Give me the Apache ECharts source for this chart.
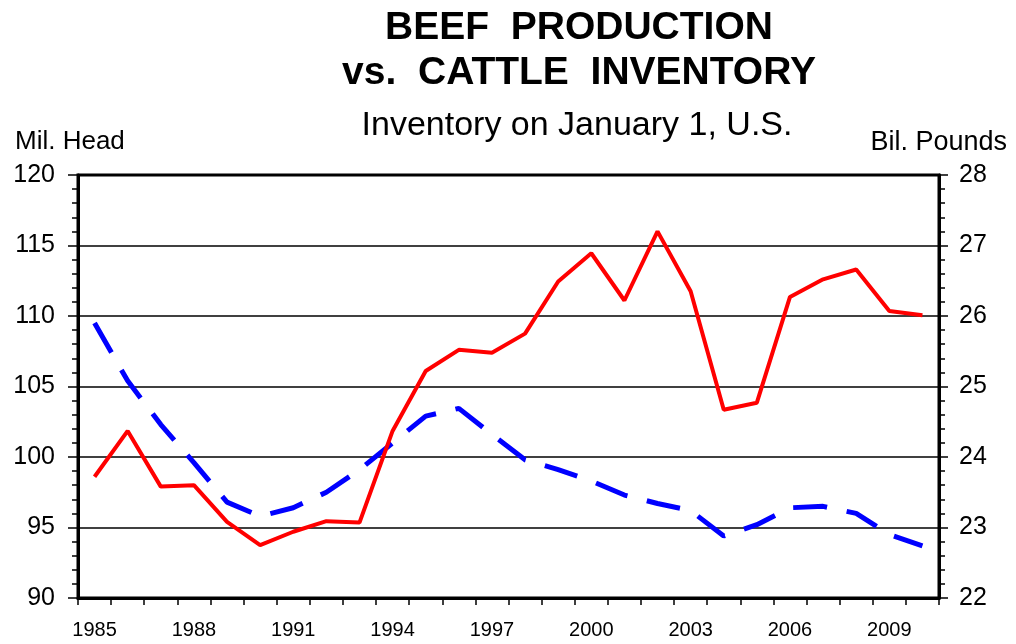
<!DOCTYPE html>
<html>
<head>
<meta charset="utf-8">
<title>Beef Production vs. Cattle Inventory</title>
<script src="https://cdn.jsdelivr.net/npm/echarts@6/dist/echarts.min.js"></script>
<style>
  html, body { margin: 0; padding: 0; background: #fff; }
  #chart { width: 1016px; height: 644px; }
</style>
</head>
<body>
<div id="chart"></div>
<script>
// years on the x axis (one point per January 1)
const years = ['1985','1986','1987','1988','1989','1990','1991','1992','1993','1994',
  '1995','1996','1997','1998','1999','2000','2001','2002','2003','2004',
  '2005','2006','2007','2008','2009','2010']

// cattle inventory, mil. head (left axis, blue dashed)
const cattleInventory = [109.5, 105.4, 102.3, 99.6, 96.8, 95.8, 96.4, 97.5, 99.1, 101.0,
  102.9, 103.45, 101.6, 99.8, 99.1, 98.3, 97.3, 96.7, 96.2, 94.4,
  95.2, 96.4, 96.5, 96.0, 94.5, 93.7]

// beef production, bil. pounds (right axis, red)
const beefProduction = [23.72, 24.37, 23.58, 23.60, 23.08, 22.75, 22.94, 23.09, 23.07, 24.37,
  25.22, 25.52, 25.48, 25.75, 26.49, 26.89, 26.22, 27.20, 26.35, 24.67,
  24.77, 26.27, 26.52, 26.66, 26.07, 26.01]

// axis ranges
const leftAxisRange = [90, 120, 5]
const rightAxisRange = [22, 28, 1]

const font = '"Liberation Sans", Arial, sans-serif'

let myChart = echarts.init(document.getElementById('chart'))

const option = {
  backgroundColor: '#fff',
  animation: false,
  title: [
    {
      text: 'BEEF  PRODUCTION\nvs.  CATTLE  INVENTORY',
      left: 574,
      top: 1,
      textAlign: 'center',
      textStyle: { fontFamily: font, fontWeight: 'bold', fontSize: 39, lineHeight: 45, color: '#000' }
    },
    {
      text: 'Inventory on January 1, U.S.',
      left: 572,
      top: 104,
      textAlign: 'center',
      textStyle: { fontFamily: font, fontWeight: 'normal', fontSize: 34, color: '#000' }
    },
    {
      text: 'Mil. Head',
      left: 10,
      top: 124,
      textStyle: { fontFamily: font, fontWeight: 'normal', fontSize: 26, color: '#000' }
    },
    {
      text: 'Bil. Pounds',
      right: 4,
      top: 124,
      textStyle: { fontFamily: font, fontWeight: 'normal', fontSize: 27, color: '#000' }
    }
  ],
  grid: {
    left: 78,
    right: 77,
    top: 175,
    bottom: 46,
    show: true,
    borderColor: '#000',
    borderWidth: 3,
    containLabel: false
  },
  xAxis: {
    type: 'category',
    data: years,
    boundaryGap: true,
    axisLine: { lineStyle: { color: '#000', width: 3 } },
    axisTick: { show: true, interval: 0, length: 7, lineStyle: { color: '#000', width: 1.5 } },
    axisLabel: { interval: 2, margin: 22, color: '#000', fontFamily: '"Liberation Sans Narrow", ' + font, fontSize: 20 },
    splitLine: { show: false }
  },
  yAxis: [
    {
      type: 'value',
      position: 'left',
      min: leftAxisRange[0],
      max: leftAxisRange[1],
      interval: leftAxisRange[2],
      axisLine: { show: true, lineStyle: { color: '#000', width: 3 } },
      axisTick: { show: true, length: 10, lineStyle: { color: '#000', width: 1.5 } },
      minorTick: { show: true, splitNumber: 5, length: 6, lineStyle: { color: '#000', width: 1.5 } },
      axisLabel: { margin: 23, color: '#000', fontFamily: font, fontSize: 25 },
      splitLine: { show: true, lineStyle: { color: '#000', width: 1.5 } }
    },
    {
      type: 'value',
      position: 'right',
      min: rightAxisRange[0],
      max: rightAxisRange[1],
      interval: rightAxisRange[2],
      axisLine: { show: true, lineStyle: { color: '#000', width: 3 } },
      axisTick: { show: true, length: 9, lineStyle: { color: '#000', width: 1.5 } },
      minorTick: { show: true, splitNumber: 5, length: 6, lineStyle: { color: '#000', width: 1.5 } },
      axisLabel: { margin: 20, color: '#000', fontFamily: font, fontSize: 25 },
      splitLine: { show: false }
    }
  ],
  series: [
    {
      name: 'Cattle Inventory',
      type: 'line',
      yAxisIndex: 0,
      data: cattleInventory,
      showSymbol: false,
      symbol: 'none',
      lineStyle: { color: '#0000ff', width: 5, type: [34, 20], cap: 'butt' },
      z: 3
    },
    {
      name: 'Beef Production',
      type: 'line',
      yAxisIndex: 1,
      data: beefProduction,
      showSymbol: false,
      symbol: 'none',
      lineStyle: { color: '#ff0000', width: 4 },
      z: 4
    }
  ]
}

myChart.setOption(option)
</script>
</body>
</html>
